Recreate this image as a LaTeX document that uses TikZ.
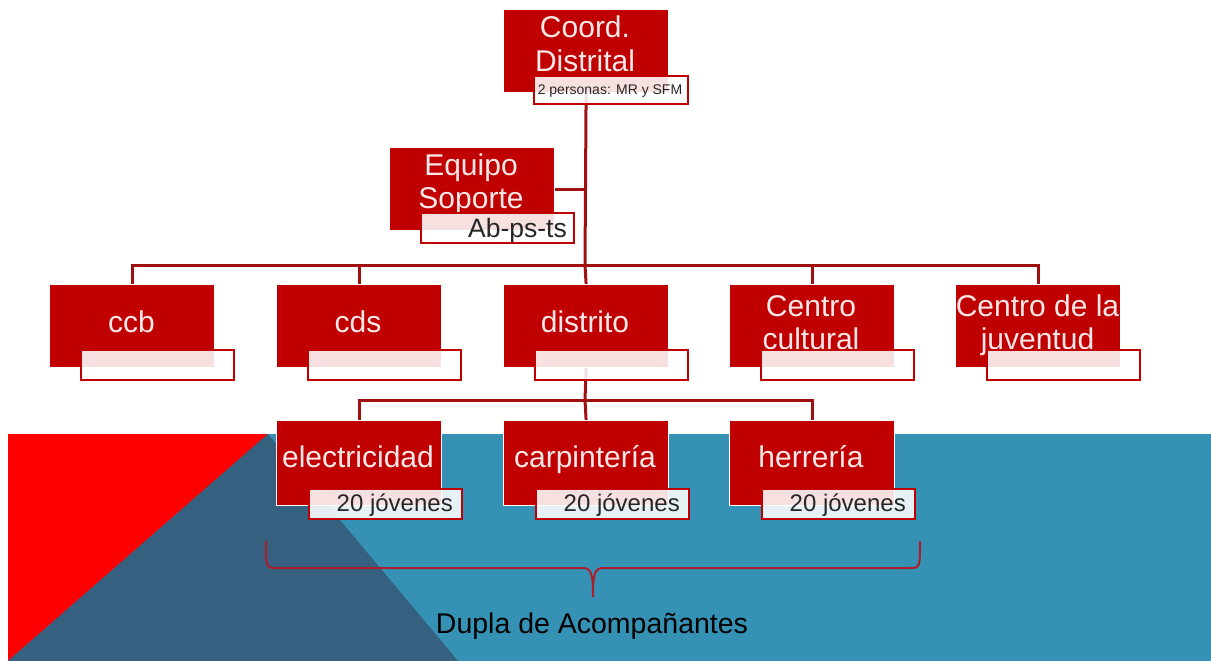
\documentclass[tikz,border=0pt]{standalone}
\usepackage{fontspec}
\setmainfont{Liberation Sans}
\definecolor{boxred}{RGB}{192,0,0}
\definecolor{linered}{RGB}{160,16,16}
\definecolor{bracered}{RGB}{170,30,45}
\definecolor{bgred}{RGB}{255,0,0}
\definecolor{bgdark}{RGB}{54,96,128}
\definecolor{bglight}{RGB}{53,146,181}
\definecolor{txtpink}{RGB}{250,232,232}
\pgfdeclarelayer{bg}
\pgfdeclarelayer{lines}
\pgfsetlayers{bg,lines,main}
\begin{document}
\begin{tikzpicture}[x=1pt,y=-1pt,
 mainbox/.style={draw=white, line width=1.2pt, fill=boxred, minimum width=165pt, minimum height=83pt, inner sep=0pt, anchor=north west},
 lowbox/.style={mainbox, minimum height=85pt},
 subbox/.style={draw=boxred, line width=2pt, fill=white, fill opacity=0.88, minimum width=153pt, minimum height=30pt, inner sep=0pt, anchor=north west},
 boxtext/.style={text=txtpink, font=\fontsize{30}{33}\selectfont, align=center, inner sep=0pt, anchor=base},
 subtext/.style={text=black!85, font=\fontsize{24}{26}\selectfont, inner sep=0pt, anchor=base east},
 conn/.style={draw=linered, line width=3pt},
 bracestyle/.style={draw=bracered, line width=2pt}]
\useasboundingbox (0,0) rectangle (1211,661);
\begin{pgfonlayer}{bg}
\fill[white] (0,0) rectangle (1211,661);
\fill[bglight] (8,434) rectangle (1211,661);
\fill[bgred] (8,434) -- (268,434) -- (8,661) -- cycle;
\fill[bgdark] (268,434) -- (8,661) -- (458,661) -- cycle;
\end{pgfonlayer}

% top
\node[mainbox] (coord) at (503,9) {};
\node[boxtext] (coordt) at (585,71) {Coord.\\Distrital};
\node[subbox, minimum width=154pt, minimum height=28pt] (coords) at (533,75) {};
\node[text=black!85, font=\fontsize{14}{16}\selectfont, inner sep=0pt, anchor=base] (coordst) at (610,95) {2 personas: MR y SFM};

\node[mainbox] (equipo) at (389,147) {};
\node[boxtext] (equipot) at (471,208) {Equipo\\Soporte};
\node[subbox] (equipos) at (420,212) {};
\node[subtext, font=\fontsize{26.5}{28}\selectfont] (equipost) at (567,237) {Ab-ps-ts};

% row 2
\node[mainbox] (ccb) at (49,284) {};
\node[boxtext] (ccbt) at (131.5,332) {ccb};
\node[subbox] (ccbs) at (80,349) {};
\node[mainbox] (cds) at (276,284) {};
\node[boxtext] (cdst) at (358,332) {cds};
\node[subbox] (cdss) at (307,349) {};
\node[mainbox] (dist) at (503,284) {};
\node[boxtext] (distt) at (585,332) {distrito};
\node[subbox] (dists) at (534,349) {};
\node[mainbox] (cc) at (729,284) {};
\node[boxtext] (cct) at (811,349) {Centro\\cultural};
\node[subbox] (ccs) at (760,349) {};
\node[mainbox] (cj) at (955,284) {};
\node[boxtext] (cjt) at (1037.5,349) {Centro de la\\juventud};
\node[subbox] (cjs) at (986,349) {};

% row 3
\node[lowbox] (elec) at (276,420) {};
\node[boxtext] (elect) at (358,467) {electricidad};
\node[subbox] (elecs) at (308,488) {};
\node[subtext] (elecst) at (453,511) {20 jóvenes};
\node[lowbox] (carp) at (503,420) {};
\node[boxtext] (carpt) at (585,467) {carpintería};
\node[subbox] (carps) at (535,488) {};
\node[subtext] (carpst) at (680,511) {20 jóvenes};
\node[lowbox] (herr) at (729,420) {};
\node[boxtext] (herrt) at (811,467) {herrería};
\node[subbox] (herrs) at (761,488) {};
\node[subtext] (herrst) at (906,511) {20 jóvenes};

% connectors
\coordinate (bus1) at (585,265);
\coordinate (bus2) at (585,400);
\begin{pgfonlayer}{lines}
\draw[conn] (coord.south) -- (bus1);
\draw[conn] (equipo.east) -- (equipo.east -| bus1);
\draw[conn] (ccb.north) |- (bus1) -| (cj.north);
\draw[conn] (cds.north) -- (cds.north |- bus1);
\draw[conn] (dist.north) -- (bus1);
\draw[conn] (cc.north) -- (cc.north |- bus1);
\draw[conn] (dist.south) -- (bus2);
\draw[conn] (elec.north) |- (bus2) -| (herr.north);
\draw[conn] (carp.north) -- (bus2);
\end{pgfonlayer}

% brace
\coordinate (bl) at (266,541);
\coordinate (br) at (920,541);
\coordinate (btip) at (593,597);
\draw[bracestyle] (bl) .. controls (266,568) and (266,568) .. (277,568) -- (582,568)
  .. controls (591,568) and (593,572) .. (btip)
  .. controls (593,572) and (595,568) .. (604,568) -- (909,568)
  .. controls (920,568) and (920,568) .. (br);
\node[text=black, font=\fontsize{28.5}{30}\selectfont, inner sep=0pt, anchor=base] (dupla) at (592,633) {Dupla de Acompañantes};
\end{tikzpicture}
\end{document}
